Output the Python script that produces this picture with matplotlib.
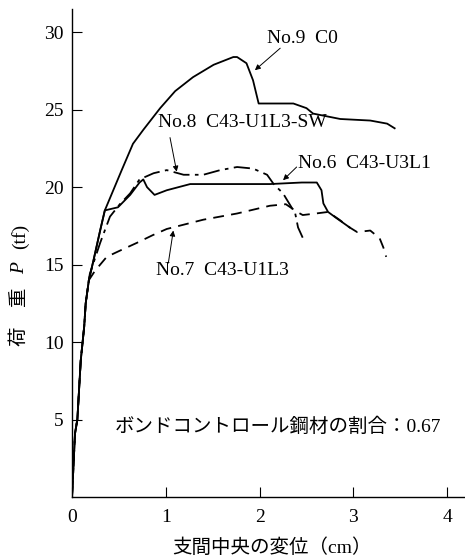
import matplotlib.pyplot as plt

plt.rcParams['font.family'] = ['Liberation Serif', 'Noto Sans CJK JP']

# shared elastic part of all four specimens
base_x = [0.0, 0.032, 0.057, 0.093, 0.13, 0.146, 0.18]
base_y = [0.0, 4.1, 5.0, 8.8, 11.0, 12.5, 14.0]

# No.9 C0
no9_x = base_x + [0.23, 0.30, 0.35, 0.44, 0.53, 0.65, 0.76, 0.94, 1.1, 1.29, 1.51, 1.72, 1.76,
                  1.86, 1.93, 1.99, 2.11, 2.36, 2.5, 2.57, 2.86, 3.18, 3.36, 3.44]
no9_y = base_y + [15.3, 17.2, 18.5, 19.8, 21.1, 22.8, 23.7, 25.1, 26.2, 27.1, 27.9, 28.4, 28.4,
                  28.0, 26.9, 25.4, 25.4, 25.4, 25.1, 24.75, 24.4, 24.3, 24.1, 23.8]

# No.6 C43-U3L1
no6_x = base_x + [0.23, 0.30, 0.35, 0.42, 0.49, 0.62, 0.72, 0.76, 0.80, 0.88, 1.01, 1.26,
                  1.58, 1.93, 2.11, 2.45, 2.61, 2.66, 2.68, 2.73, 2.82, 2.96]
no6_y = base_y + [15.3, 17.2, 18.5, 18.6, 18.7, 19.5, 20.3, 20.5, 20.0, 19.5, 19.8, 20.2,
                  20.2, 20.2, 20.2, 20.3, 20.3, 19.8, 18.95, 18.4, 18.0, 17.4]

# No.8 C43-U1L3-SW
no8_x = base_x + [0.19, 0.30, 0.405, 0.51, 0.62, 0.72, 0.87, 1.01, 1.19, 1.40, 1.58, 1.76,
                  1.93, 2.08, 2.15, 2.25, 2.32, 2.38, 2.41, 2.47]
no8_y = base_y + [14.4, 16.4, 18.1, 18.9, 19.6, 20.5, 20.9, 21.1, 20.8, 20.8, 21.1, 21.3,
                  21.2, 20.8, 20.2, 19.6, 18.9, 18.3, 17.4, 16.6]

# No.7 C43-U1L3
no7_x = base_x + [0.245, 0.37, 0.51, 0.69, 0.86, 1.01, 1.40, 1.76, 2.11, 2.28, 2.40, 2.46,
                  2.6, 2.73, 2.85, 2.96, 3.04, 3.18, 3.28, 3.32, 3.35]
no7_y = base_y + [14.6, 15.5, 15.9, 16.4, 16.9, 17.3, 17.9, 18.3, 18.8, 18.9, 18.4, 18.2,
                  18.3, 18.4, 17.9, 17.4, 17.1, 17.2, 16.7, 16.1, 15.5]

x_ticks = [0, 1, 2, 3, 4]
y_ticks = [5, 10, 15, 20, 25, 30]

fig = plt.figure(figsize=(4.65, 5.6), dpi=100)
ax = fig.add_axes([72 / 465, 63 / 560, 393 / 465, 488 / 560])

ax.plot(no9_x, no9_y, color='black', lw=1.3)
ax.plot(no6_x, no6_y, color='black', lw=1.3)
ax.plot(no8_x, no8_y, color='black', lw=1.3, linestyle=(0, (9, 3, 2, 3)))
ax.plot(no7_x, no7_y, color='black', lw=1.3, linestyle=(0, (6, 4)))

ax.set_xlim(0, 4.19)
ax.set_ylim(0, 31.5)
ax.set_xticks(x_ticks)
ax.set_yticks(y_ticks)
ax.spines['top'].set_visible(False)
ax.spines['right'].set_visible(False)
ax.spines['left'].set_linewidth(1.0)
ax.spines['bottom'].set_linewidth(1.0)
ax.tick_params(axis='both', direction='in', length=7.5, width=0.8, labelsize=14)
ax.tick_params(axis='x', pad=9)
ax.tick_params(axis='y', pad=6)

arrow = dict(arrowstyle='-|>', lw=0.7, color='black', mutation_scale=8, shrinkA=0, shrinkB=0)
fs = 14
ax.text(2.076, 29.6, 'No.9  C0', fontsize=fs, ha='left', va='center')
ax.annotate('', xy=(1.95, 27.55), xytext=(2.22, 28.97), arrowprops=arrow)
ax.text(0.917, 24.2, 'No.8  C43-U1L3-SW', fontsize=fs, ha='left', va='center')
ax.annotate('', xy=(1.116, 21.0), xytext=(1.045, 23.2), arrowprops=arrow)
ax.text(2.41, 21.55, 'No.6  C43-U3L1', fontsize=fs, ha='left', va='center')
ax.annotate('', xy=(2.25, 20.45), xytext=(2.395, 21.3), arrowprops=arrow)
ax.text(0.90, 14.65, 'No.7  C43-U1L3', fontsize=fs, ha='left', va='center')
ax.annotate('', xy=(1.08, 17.2), xytext=(1.027, 15.1), arrowprops=arrow)
ax.text(0.458, 4.5, 'ボンドコントロール鋼材の割合：0.67', fontsize=14, ha='left', va='center')

fig.text(272 / 465, 1 - 548 / 560, '支間中央の変位（cm）', fontsize=14, ha='center', va='center')
fig.text(20 / 465, 1 - 317 / 560, '荷　重', fontsize=14, rotation=90, ha='center', va='center')
fig.text(20 / 465, 1 - 268 / 560, 'P', fontsize=14, style='italic', rotation=90, ha='center', va='center')
fig.text(20 / 465, 1 - 236 / 560, '(tf)', fontsize=14, rotation=90, ha='center', va='center')

plt.savefig('out.png', dpi=100)
